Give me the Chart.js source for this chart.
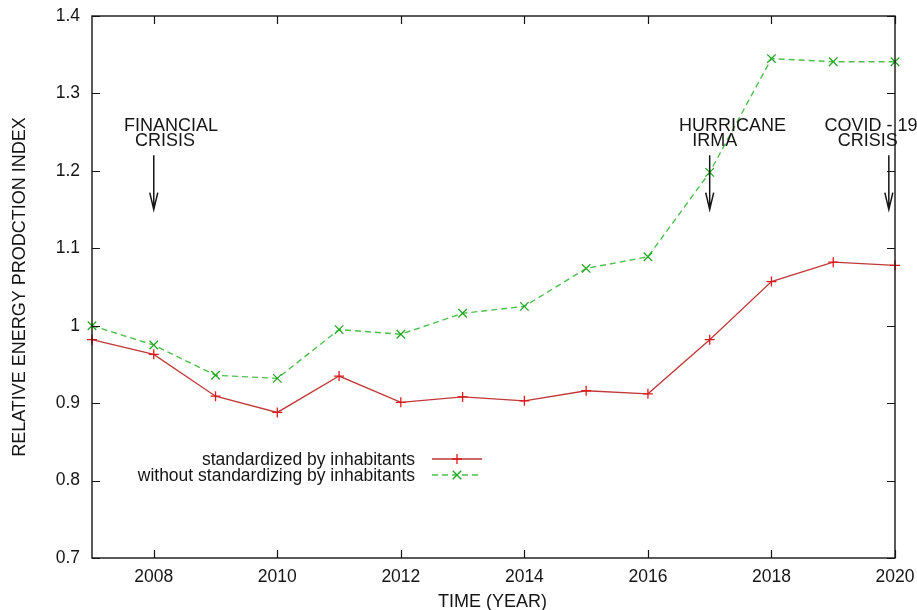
<!DOCTYPE html>
<html>
<head>
<meta charset="utf-8">
<script src="https://cdn.jsdelivr.net/npm/chart.js@4"></script>
<style>
  html, body { margin: 0; padding: 0; background: #fff; }
  canvas { display: block; }
</style>
</head>
<body>
<canvas id="chart" width="917" height="610"></canvas>
<script>
// Relative energy production index, 2007-2020
const years = [2007, 2008, 2009, 2010, 2011, 2012, 2013, 2014, 2015, 2016, 2017, 2018, 2019, 2020];
const standardized = [0.982, 0.963, 0.909, 0.888, 0.935, 0.901, 0.908, 0.903, 0.916, 0.912, 0.982, 1.057, 1.082, 1.078];
const withoutStandardizing = [1.000, 0.975, 0.936, 0.932, 0.995, 0.989, 1.016, 1.025, 1.074, 1.089, 1.198, 1.345, 1.341, 1.341];

const seriesLabels = ['standardized by inhabitants', 'without standardizing by inhabitants'];

const xTicks = [2008, 2010, 2012, 2014, 2016, 2018, 2020];
const yTicks = [0.7, 0.8, 0.9, 1.0, 1.1, 1.2, 1.3, 1.4];
const yTickLabels = ['0.7', '0.8', '0.9', '1', '1.1', '1.2', '1.3', '1.4'];

// Event markers: arrow year, arrow span, and two-line caption
const eventYears = [2008, 2017, 2019.9];
const eventLines = [['FINANCIAL', 'CRISIS'], ['HURRICANE', 'IRMA'], ['COVID - 19', 'CRISIS']];
const eventLineX = [[2008.28, 2008.18], [2017.37, 2017.08], [2019.61, 2019.56]];
const eventLineY = [1.258, 1.238];
const arrowFrom = 1.22;
const arrowTo = 1.15;

const FONT = "'Liberation Sans', Arial, Helvetica, sans-serif";
const INK = '#151515';

const toPoints = (vals) => years.map((y, i) => ({ x: y, y: vals[i] }));

// keep the plot box fixed: no extra room for overhanging tick labels
const noOverhang = (s) => {
  s.paddingLeft = 0; s.paddingRight = 0; s.paddingTop = 0; s.paddingBottom = 0;
};

const frameAndNotes = {
  id: 'frameAndNotes',
  afterDatasetsDraw(chart) {
    const { ctx, chartArea: a, scales: { x, y } } = chart;
    ctx.save();

    // border box
    ctx.strokeStyle = INK;
    ctx.lineWidth = 1.4;
    ctx.setLineDash([]);
    ctx.strokeRect(a.left, a.top, a.right - a.left, a.bottom - a.top);

    // inward tick marks, mirrored on all four sides
    ctx.lineWidth = 1.2;
    ctx.beginPath();
    xTicks.forEach(v => {
      const px = Math.round(x.getPixelForValue(v)) + 0.5;
      ctx.moveTo(px, a.bottom); ctx.lineTo(px, a.bottom - 8);
      ctx.moveTo(px, a.top); ctx.lineTo(px, a.top + 8);
    });
    yTicks.forEach(v => {
      const py = Math.round(y.getPixelForValue(v)) + 0.5;
      ctx.moveTo(a.left, py); ctx.lineTo(a.left + 8, py);
      ctx.moveTo(a.right, py); ctx.lineTo(a.right - 8, py);
    });
    ctx.stroke();

    // event arrows
    ctx.lineWidth = 1.5;
    eventYears.forEach(ev => {
      const px = x.getPixelForValue(ev);
      const y0 = y.getPixelForValue(arrowFrom);
      const y1 = y.getPixelForValue(arrowTo);
      ctx.beginPath();
      ctx.moveTo(px, y0); ctx.lineTo(px, y1);
      ctx.moveTo(px - 4, y1 - 17); ctx.lineTo(px, y1); ctx.lineTo(px + 4, y1 - 17);
      ctx.stroke();
    });

    // event captions
    ctx.fillStyle = INK;
    ctx.font = `18px ${FONT}`;
    ctx.textAlign = 'center';
    ctx.textBaseline = 'middle';
    eventLines.forEach((lines, i) => {
      lines.forEach((t, j) => {
        ctx.fillText(t, x.getPixelForValue(eventLineX[i][j]), y.getPixelForValue(eventLineY[j]));
      });
    });

    // key, text right-aligned with sample line to the right
    const rows = [459, 475];
    ctx.font = `17.5px ${FONT}`;
    ctx.textAlign = 'right';
    chart.data.datasets.forEach((ds, i) => {
      const ry = rows[i];
      ctx.fillStyle = INK;
      ctx.fillText(ds.label, 415, ry + 1);
      ctx.strokeStyle = ds.borderColor;
      ctx.lineWidth = ds.borderWidth;
      ctx.setLineDash(ds.borderDash || []);
      ctx.beginPath();
      ctx.moveTo(432, ry); ctx.lineTo(482, ry);
      ctx.stroke();
      ctx.setLineDash([]);
      ctx.strokeStyle = ds.pointBorderColor;
      Chart.helpers.drawPoint(ctx, {
        pointStyle: ds.pointStyle, radius: ds.pointRadius, rotation: 0,
        borderWidth: ds.pointBorderWidth
      }, 457, ry);
    });

    // axis titles
    ctx.fillStyle = INK;
    ctx.font = `18px ${FONT}`;
    ctx.textAlign = 'center';
    ctx.textBaseline = 'alphabetic';
    ctx.fillText('TIME (YEAR)', (a.left + a.right) / 2 - 1, 607);
    ctx.save();
    ctx.translate(25, (a.top + a.bottom) / 2);
    ctx.rotate(-Math.PI / 2);
    ctx.fillText('RELATIVE ENERGY PRODCTION INDEX', 0, 0);
    ctx.restore();

    ctx.restore();
  }
};

new Chart(document.getElementById('chart'), {
  type: 'line',
  data: {
    datasets: [
      {
        label: seriesLabels[0],
        data: toPoints(standardized),
        borderColor: '#c03838',
        borderWidth: 1.3,
        pointStyle: 'cross',
        pointRadius: 5,
        pointBorderWidth: 1.3,
        pointBorderColor: '#dd1a1a',
        pointBackgroundColor: '#dd1a1a',
        tension: 0,
        clip: 8
      },
      {
        label: seriesLabels[1],
        data: toPoints(withoutStandardizing),
        borderColor: '#4dbf4d',
        borderWidth: 1.4,
        borderDash: [6, 4],
        pointStyle: 'crossRot',
        pointRadius: 6,
        pointBorderWidth: 1.3,
        pointBorderColor: '#24a824',
        pointBackgroundColor: '#24a824',
        tension: 0,
        clip: 8
      }
    ]
  },
  options: {
    responsive: false,
    animation: false,
    devicePixelRatio: 1,
    layout: { padding: { top: 16, right: 22, left: 0, bottom: 0 } },
    plugins: { legend: { display: false }, tooltip: { enabled: false } },
    scales: {
      x: {
        type: 'linear',
        min: 2007,
        max: 2020,
        afterBuildTicks: s => { s.ticks = xTicks.map(v => ({ value: v })); },
        afterFit: s => { s.height = 52; noOverhang(s); },
        grid: { display: false, drawTicks: false },
        border: { display: false },
        ticks: {
          padding: 9,
          maxRotation: 0,
          autoSkip: false,
          color: INK,
          font: { family: FONT, size: 17.5 },
          callback: v => String(v)
        }
      },
      y: {
        type: 'linear',
        min: 0.7,
        max: 1.4,
        afterBuildTicks: s => { s.ticks = yTicks.map(v => ({ value: v })); },
        afterFit: s => { s.width = 92; noOverhang(s); },
        grid: { display: false, drawTicks: false },
        border: { display: false },
        ticks: {
          padding: 12,
          autoSkip: false,
          color: INK,
          font: { family: FONT, size: 17.5 },
          callback: (v, i) => yTickLabels[i]
        }
      }
    }
  },
  plugins: [frameAndNotes]
});
</script>
</body>
</html>
